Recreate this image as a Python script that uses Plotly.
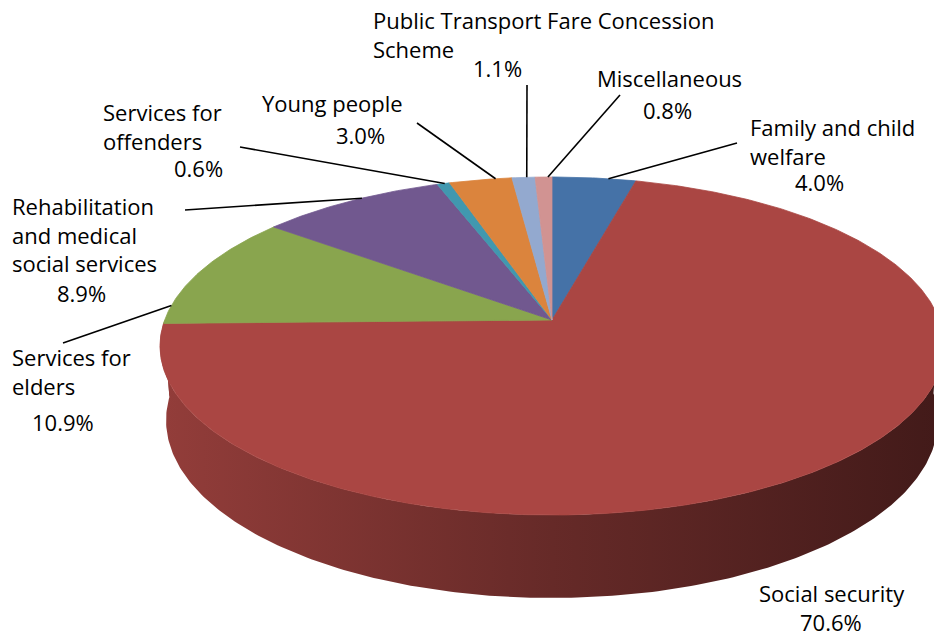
import math
import numpy as np
import plotly.graph_objects as go

# ---------------- data ----------------
categories = ["Family and child welfare", "Social security", "Services for elders",
              "Rehabilitation and medical social services", "Services for offenders",
              "Young people", "Public Transport Fare Concession Scheme", "Miscellaneous"]
values = [4.0, 70.6, 10.9, 8.9, 0.6, 3.0, 1.1, 0.8]
colors = ["#4572A7", "#AA4643", "#89A54E", "#71588F", "#4198AF", "#DB843D", "#93A9CF", "#D19392"]

# label wrapping as in the reference
label_lines = [["Family and child", "welfare"], ["Social security"], ["Services for", "elders"],
               ["Rehabilitation", "and medical", "social services"], ["Services for", "offenders"],
               ["Young people"], ["Public Transport Fare Concession", "Scheme"], ["Miscellaneous"]]

# ---------------- layout / style parameters ----------------
W, H = 934, 638
cx, cy = 552, 320            # pie centre (pixels)
f, D = 2277.7, 5.88          # perspective
alpha = math.asin(0.426)     # tilt
depth = 0.2125               # thickness relative to radius
ca, sa = math.cos(alpha), math.sin(alpha)

name_pos = [(748, 127), (757, 593), (10, 357), (10, 206), (101, 112), (260, 103), (371, 20), (595, 78)]
pct_pos = [(819, 182), (831, 622), (63, 422), (81, 293), (198, 168), (360, 135), (497, 68), (667, 110)]
leader_end = [(737, 143), None, (63, 343), (185, 210), (240, 147), (417, 123), (527, 85), (620, 95)]
leader_frac = [0.67, None, 0.16, 0.57, 0.61, 0.74, 0.64, 0.76]
line_gap = 28.5
FONT = dict(family="Open Sans", size=22, color="#000000")


def proj(theta_deg, level):
    th = np.radians(theta_deg)
    x3, z3, y3 = np.sin(th), np.cos(th), level
    yc = y3 * ca + z3 * sa
    d = -y3 * sa + z3 * ca + D
    return cx + f * x3 / d, cy - f * yc / d


total = sum(values)
cum = np.concatenate([[0], np.cumsum(values)]) / total * 360.0
starts, ends = cum[:-1], cum[1:]

fig = go.Figure()

# side walls (front half only)
xmax = f / (D * (1 - (ca / D) ** 2) ** 0.5)
for i in range(len(values)):
    a0, a1 = max(starts[i], 90.0), min(ends[i], 270.0)
    if a1 <= a0:
        continue
    t = np.linspace(a0, a1, 240)
    xt, yt = proj(t, 0.0)
    xb, yb = proj(t[::-1], -depth)
    xs = np.concatenate([xt, xb, xt[:1]])
    ys = np.concatenate([yt, yb, yt[:1]])
    fig.add_trace(go.Scatter(
        x=xs, y=ys, mode="lines", fill="toself", line=dict(width=0),
        fillgradient=dict(type="horizontal",
                          colorscale=[[0, "#933d3a"], [0.5, "#662a28"], [1, "#421a19"]],
                          start=cx - xmax, stop=cx + xmax),
        hoverinfo="skip", showlegend=False))

# top faces
for i in range(len(values)):
    n = max(4, int((ends[i] - starts[i]) * 2))
    t = np.linspace(starts[i], ends[i], n)
    xa, ya = proj(t, 0.0)
    xs = np.concatenate([[cx], xa, [cx]])
    ys = np.concatenate([[cy], ya, [cy]])
    fig.add_trace(go.Scatter(
        x=xs, y=ys, mode="lines", fill="toself", fillcolor=colors[i],
        line=dict(width=0.8, color=colors[i]), hoverinfo="skip", showlegend=False,
        name=categories[i]))

# leader lines
for i in range(len(values)):
    if leader_end[i] is None:
        continue
    th = starts[i] + leader_frac[i] * (ends[i] - starts[i])
    x0, y0 = proj(th, 0.0)
    fig.add_trace(go.Scatter(
        x=[float(x0), leader_end[i][0]], y=[float(y0), leader_end[i][1]], mode="lines",
        line=dict(color="#000000", width=1.6), hoverinfo="skip", showlegend=False))

annotations = []
for i in range(len(values)):
    lx, ly = name_pos[i]
    for k, txt in enumerate(label_lines[i]):
        annotations.append(dict(x=lx, y=ly + k * line_gap, xref="x", yref="y", text=txt,
                                showarrow=False, xanchor="left", yanchor="middle", font=FONT))
    px, py = pct_pos[i]
    annotations.append(dict(x=px, y=py, xref="x", yref="y", text=f"{values[i]:.1f}%",
                            showarrow=False, xanchor="center", yanchor="middle", font=FONT))

fig.update_layout(
    width=W, height=H, margin=dict(l=0, r=0, t=0, b=0),
    paper_bgcolor="white", plot_bgcolor="white",
    xaxis=dict(range=[0, W], visible=False, fixedrange=True),
    yaxis=dict(range=[H, 0], visible=False, fixedrange=True),
    annotations=annotations, showlegend=False)

fig.write_html("out.html", config={"displayModeBar": False})
